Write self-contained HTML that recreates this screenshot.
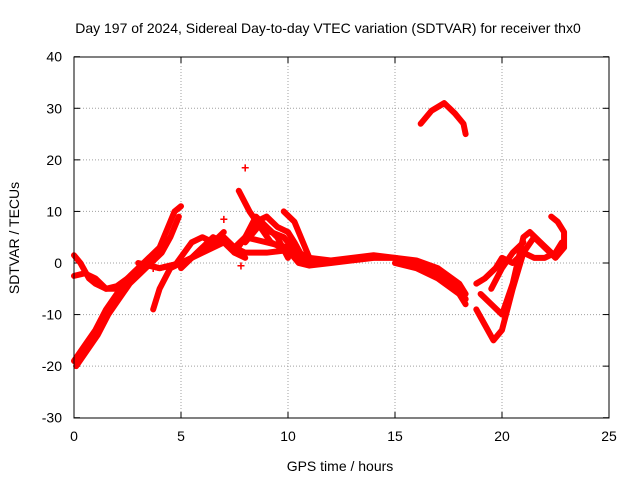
<!DOCTYPE html>
<html><head><meta charset="utf-8"><style>
body{margin:0;background:#fff}
svg{display:block;font-family:"Liberation Sans",sans-serif}
</style></head><body>
<svg id="chart" width="640" height="480" viewBox="0 0 640 480">
<rect width="640" height="480" fill="#fff"/>
<text x="328" y="33" font-size="14" text-anchor="middle">Day 197 of 2024, Sidereal Day-to-day VTEC variation (SDTVAR) for receiver thx0</text>
<g id="grid"></g><g id="ticks"></g><g id="series"></g>
<rect x="74" y="57" width="535" height="361" fill="none" stroke="#000" stroke-width="1"/>
<text x="340" y="471" font-size="14" text-anchor="middle">GPS time / hours</text>
<text transform="translate(19,238) rotate(-90)" font-size="14" text-anchor="middle">SDTVAR / TECUs</text>
</svg>
<script>
const xTicks=[0,5,10,15,20,25];
const yTicks=[-30,-20,-10,0,10,20,30,40];
const traces=[
[[0,-19],[0.5,-16],[1,-13],[1.5,-9],[2,-6],[2.5,-3],[3,-1],[3.5,1],[4,3],[4.4,7],[4.7,10],[5,11]],
[[0.1,-20],[0.6,-17],[1.1,-14],[1.6,-10],[2.1,-7],[2.6,-4],[3.1,-2],[3.6,0],[4.1,2],[4.5,5],[4.9,9]],
[[0,1.5],[0.3,0],[0.7,-3],[1,-4],[1.5,-5],[2,-4.5],[2.5,-3],[3,-1],[3.5,0]],
[[0,-2.5],[0.5,-2],[1,-3],[1.5,-5],[2,-5],[2.5,-3.5],[3,-1.5],[3.5,-0.5],[4,-1],[4.5,-0.5],[5,0]],
[[3.7,-9],[4,-5],[4.5,-1],[5,0],[5.5,1],[6,3],[6.5,4],[7,5],[7.5,3],[8,2],[9,2],[10,2.5],[10.5,0],[11,-0.5],[12,0],[13,0.5],[14,1],[15,1],[16,0],[17,-2],[18,-5],[18.3,-7]],
[[3,0],[4,-1],[5,0],[6,2],[7,4],[7.5,3],[8,5],[9,4],[10,3],[11,1],[12,0.5],[13,1],[14,1.5],[15,1],[16,0.5],[17,-1],[18,-4],[18.3,-6]],
[[5,-1],[5.5,1],[6,3],[6.5,5],[7,4],[7.5,2],[8,1]],
[[4.8,0],[5.5,4],[6,5],[6.5,4],[7,6]],
[[7.7,14],[8.2,10],[8.7,7],[9.2,4],[9.7,3],[10,2.5],[10.5,1],[11,0]],
[[8,5],[8.5,8],[9,9],[9.5,7],[10,6],[10.3,4],[10.7,1],[11,0]],
[[7.5,2],[8,5],[8.5,9],[9,7],[9.5,5],[10,1]],
[[9.8,10],[10.3,8],[10.7,4],[11,1],[11.5,0]],
[[8,4],[8.6,7],[9.2,6],[9.8,5],[10.2,3]],
[[15,0],[16,-1],[17,-3],[18,-6],[18.3,-8]],
[[15.5,0.5],[16.5,-1],[17.5,-4],[18.3,-7]],
[[16.2,27],[16.7,29.5],[17.3,31],[17.8,29],[18.2,27],[18.3,25]],
[[18.8,-4],[19.2,-3],[19.7,-1],[20,1],[20.5,0],[21,2],[21.5,1],[22,1],[22.5,2],[22.8,4]],
[[18.8,-9],[19.2,-12],[19.6,-15],[20,-13],[20.5,-5],[21,2],[21.5,5],[22,3],[22.5,1],[22.9,3]],
[[19,-6],[19.5,-8],[20,-10],[20.5,-4],[21,5],[21.3,6],[21.8,4],[22.3,2]],
[[19.5,-5],[20,-1],[20.5,2],[21,4]],
[[22.3,9],[22.6,8],[22.9,6],[22.9,3]]
];
const singles=[[8,18.5],[7,8.5],[7.8,-0.5],[3.7,-1]];
const NS='http://www.w3.org/2000/svg';
const X=v=>74+v*535/25, Y=v=>263-v*361/70;
function mk(t,a,p){const e=document.createElementNS(NS,t);for(const k in a)e.setAttribute(k,a[k]);p.appendChild(e);return e;}
const G=document.getElementById('grid'),T=document.getElementById('ticks'),S=document.getElementById('series');
xTicks.forEach(v=>{
 if(v>0&&v<25){const l=mk('line',{x1:X(v),x2:X(v),y1:57,y2:418,stroke:'#a0a0a0','stroke-dasharray':'1,2'},G);
 }
 const t=mk('text',{x:X(v),y:441,'font-size':14,'text-anchor':'middle'},T);t.textContent=v;
 
 mk('line',{x1:X(v),x2:X(v),y1:418,y2:412,stroke:'#000'},T);mk('line',{x1:X(v),x2:X(v),y1:57,y2:63,stroke:'#000'},T);
});
yTicks.forEach(v=>{
 if(v>-30&&v<40){const l=mk('line',{x1:74,x2:609,y1:Y(v),y2:Y(v),stroke:'#a0a0a0','stroke-dasharray':'1,2'},G);
 }
 const t=mk('text',{x:62,y:Y(v)+5,'font-size':14,'text-anchor':'end'},T);t.textContent=v;
 
 mk('line',{x1:74,x2:80,y1:Y(v),y2:Y(v),stroke:'#000'},T);mk('line',{x1:603,x2:609,y1:Y(v),y2:Y(v),stroke:'#000'},T);
});
traces.forEach(tr=>{
 const p=mk('polyline',{points:tr.map(d=>X(d[0])+','+Y(d[1])).join(' '),fill:'none',stroke:'#f00','stroke-width':6,'stroke-linejoin':'round','stroke-linecap':'round'},S);
 
});
singles.forEach(d=>{
 const t=mk('text',{x:X(d[0]),y:Y(d[1])+5,'font-size':14,'font-weight':'bold',fill:'#f00','text-anchor':'middle'},S);t.textContent='+';
 
});
</script>
</body></html>
